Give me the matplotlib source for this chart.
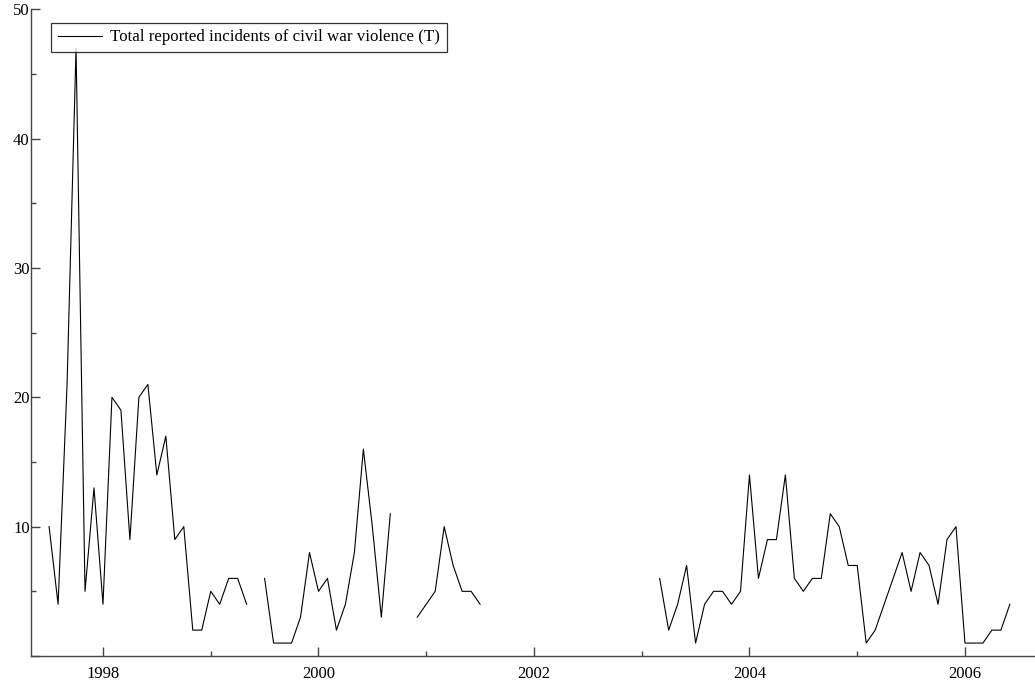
import matplotlib
matplotlib.use('Agg')
import matplotlib.pyplot as plt
from matplotlib.ticker import MultipleLocator
import numpy as np

# --- dados mensais (jul/1997 a jun/2006), None = mês sem registro ---
ano_inicio = 1997
mes_inicio = 7
incidentes = [
    10, 4, 21, 47, 5, 13, 4, 20, 19, 9, 20, 21, 14, 17, 9, 10, 2, 2, 5, 4, 6, 6, 4,
    None,
    6, 1, 1, 1, 3, 8, 5, 6, 2, 4, 8, 16, 10, 3, 11,
    None, None,
    3, 4, 5, 10, 7, 5, 5, 4,
    None, None, None, None, None, None, None, None, None, None,
    None, None, None, None, None, None, None, None, None,
    6, 2, 4, 7, 1, 4, 5, 5, 4, 5, 14, 6, 9, 9, 14, 6, 5, 6, 6, 11,
    10, 7, 7, 1, 2, 4, 6, 8, 5, 8, 7, 4, 9, 10, 1, 1, 1, 2, 2, 4,
]
anos_ticks = [1998, 2000, 2002, 2004, 2006]
legenda = 'Total reported incidents of civil war violence (T)'

valores = np.array([np.nan if v is None else v for v in incidentes], dtype=float)
tempo = ano_inicio + (mes_inicio - 1) / 12 + np.arange(len(valores)) / 12

plt.rcParams['font.family'] = ['Liberation Serif', 'DejaVu Serif']
plt.rcParams['font.size'] = 12

W, H = 1035, 686
fig = plt.figure(figsize=(W / 100, H / 100), dpi=100)
ax = fig.add_axes([31 / W, 30 / H, 1 - 31 / W, (656 - 9.3) / H])

ax.plot(tempo, valores, color='black', linewidth=0.8, label=legenda)

ax.set_xlim(1997.332, 2006.65)
ax.set_ylim(0, 50)
ax.set_xticks(anos_ticks)
ax.set_xticklabels([str(a) for a in anos_ticks])
ax.xaxis.set_minor_locator(MultipleLocator(1))
ax.yaxis.set_major_locator(MultipleLocator(10))
ax.yaxis.set_minor_locator(MultipleLocator(5))

cor_eixo = '#444444'
for lado in ['top', 'right']:
    ax.spines[lado].set_visible(False)
for lado in ['left', 'bottom']:
    ax.spines[lado].set_color(cor_eixo)
    ax.spines[lado].set_linewidth(1.0)

ax.tick_params(which='both', direction='in', color=cor_eixo, width=1.0)
ax.tick_params(which='major', length=6.5)
ax.tick_params(which='minor', length=3.8)
ax.tick_params(axis='y', which='major', pad=1)
ax.tick_params(axis='x', which='major', pad=7)

# sem rótulo no 0 do eixo y
ax.yaxis.set_major_formatter(plt.FuncFormatter(lambda v, p: '' if v == 0 else f'{v:.0f}'))

leg = ax.legend(loc='upper left', bbox_to_anchor=(51 / W, 1 - 22.7 / H),
                bbox_transform=fig.transFigure, borderaxespad=0,
                fancybox=False, frameon=True, edgecolor='black',
                fontsize=12.2, handlelength=2.6, handletextpad=0.5,
                borderpad=0.4)
leg.get_frame().set_linewidth(0.9)

fig.savefig('out.png', dpi=100)
